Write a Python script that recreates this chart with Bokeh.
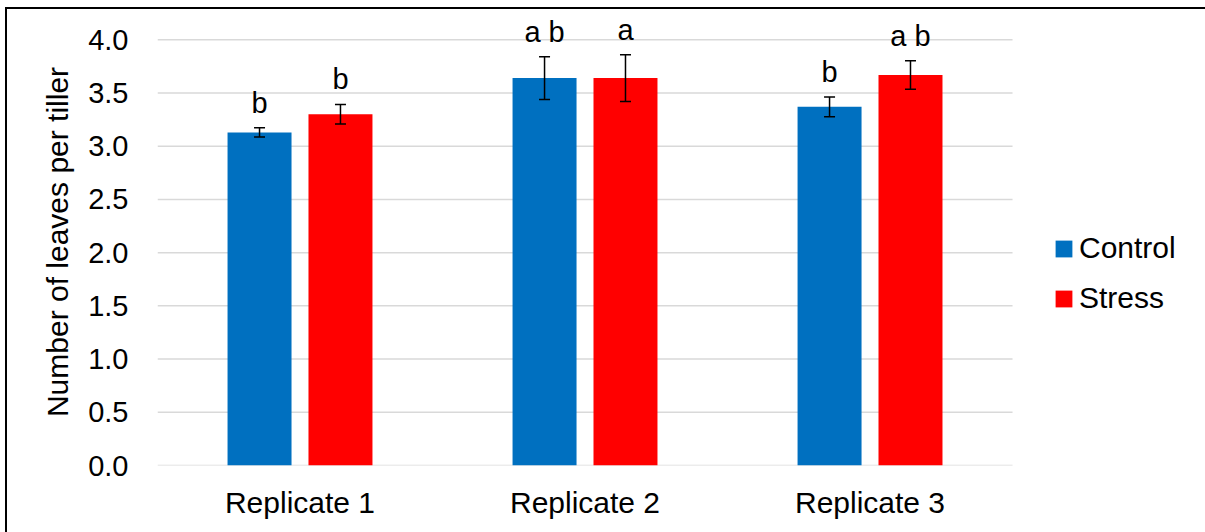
from bokeh.plotting import figure
from bokeh.models import (ColumnDataSource, Range1d, FixedTicker, PrintfTickFormatter,
                          Whisker, TeeHead, LabelSet, Legend, LegendItem)
from bokeh.core.properties import value
from bokeh.embed import file_html
from bokeh.resources import INLINE

reps = ["Replicate 1", "Replicate 2", "Replicate 3"]
control = [3.13, 3.64, 3.37]
stress = [3.30, 3.64, 3.67]
control_err = [0.044, 0.20, 0.092]
stress_err = [0.092, 0.22, 0.134]
control_letters = ["b", "a b", "b"]
stress_letters = ["b", "a", "a b"]
y_ticks = [0.0, 0.5, 1.0, 1.5, 2.0, 2.5, 3.0, 3.5, 4.0]

FONT = "Liberation Sans"
CTRL_COLOR = "#0070C0"
STRESS_COLOR = "#FF0000"

off = 0.142   # half distance between the two bars of a group (category units)
bw = 0.2245   # bar width (category units)
centers = [i + 0.5 for i in range(len(reps))]


def make_src(vals, errs, letters, shift):
    return ColumnDataSource(dict(
        x=[c + shift for c in centers], val=vals,
        lo=[v - e for v, e in zip(vals, errs)],
        hi=[v + e for v, e in zip(vals, errs)],
        txt=letters))


src_c = make_src(control, control_err, control_letters, -off)
src_s = make_src(stress, stress_err, stress_letters, off)

# chart-area border: only its left and top edges fall inside the window
border_css = (":host::before { content: ''; position: fixed; left: 5px; top: 7px; "
              "width: 1600px; height: 900px; "
              "border-left: 2px solid #000000; border-top: 2px solid #000000; "
              "pointer-events: none; z-index: 10; }")

p = figure(x_range=Range1d(0, 3.649), y_range=Range1d(0, 4.2), width=1190, height=516,
           output_backend="svg", toolbar_location=None,
           min_border_left=150, min_border_right=0, min_border_top=9, min_border_bottom=60,
           styles={"margin-left": "7px", "margin-top": "9px"},
           stylesheets=[border_css])
p.outline_line_color = None
p.background_fill_color = "white"
p.border_fill_color = "white"
p.xgrid.grid_line_color = None
p.ygrid.grid_line_color = None

# horizontal gridlines spanning only the category area
p.segment(x0=[0] * len(y_ticks), x1=[len(reps)] * len(y_ticks), y0=y_ticks, y1=y_ticks,
          line_color="#D9D9D9", line_width=1.5, level="underlay")

rc = p.vbar(x="x", top="val", width=bw, source=src_c, fill_color=CTRL_COLOR, line_color=None)
rs = p.vbar(x="x", top="val", width=bw, source=src_s, fill_color=STRESS_COLOR, line_color=None)

for src in (src_c, src_s):
    w = Whisker(base="x", upper="hi", lower="lo", source=src,
                line_color="black", line_width=1.5, level="overlay",
                upper_head=TeeHead(size=11, line_color="black", line_width=1.5),
                lower_head=TeeHead(size=11, line_color="black", line_width=1.5))
    p.add_layout(w)
    lbl = LabelSet(x="x", y="hi", text="txt", source=src,
                   y_offset=15, text_align="center", text_baseline="alphabetic",
                   text_font=value(FONT), text_font_size=value("29px"), text_color="black")
    p.add_layout(lbl)

# axes
p.xaxis.ticker = FixedTicker(ticks=centers)
p.xaxis.major_label_overrides = {c: r for c, r in zip(centers, reps)}
p.yaxis.ticker = FixedTicker(ticks=y_ticks)
p.yaxis.formatter = PrintfTickFormatter(format="%.1f")
for ax in (p.xaxis[0], p.yaxis[0]):
    ax.axis_line_color = None
    ax.major_tick_line_color = None
    ax.minor_tick_line_color = None
    ax.major_tick_out = 0
    ax.major_tick_in = 0
    ax.minor_tick_out = 0
    ax.minor_tick_in = 0
    ax.major_label_text_font = FONT
    ax.major_label_text_color = "black"
p.yaxis.major_label_text_font_size = "29px"
p.yaxis.major_label_standoff = 29
p.xaxis.major_label_text_font_size = "30px"
p.xaxis.major_label_standoff = 20
p.yaxis.axis_label = "Number of leaves per tiller"
p.yaxis.axis_label_text_font = FONT
p.yaxis.axis_label_text_font_size = "30px"
p.yaxis.axis_label_text_font_style = "normal"
p.yaxis.axis_label_text_color = "black"
p.yaxis.axis_label_standoff = 11

legend = Legend(items=[LegendItem(label="Control", renderers=[rc]),
                       LegendItem(label="Stress", renderers=[rs])],
                location=(896, 150), orientation="vertical",
                glyph_width=21, glyph_height=21, label_standoff=5, spacing=16,
                padding=0, margin=0, border_line_color=None, background_fill_alpha=0,
                label_text_font=FONT, label_text_font_size="30px", label_text_color="black",
                label_height=30)
p.add_layout(legend, "center")

open("out.html", "w").write(file_html(p, INLINE))
